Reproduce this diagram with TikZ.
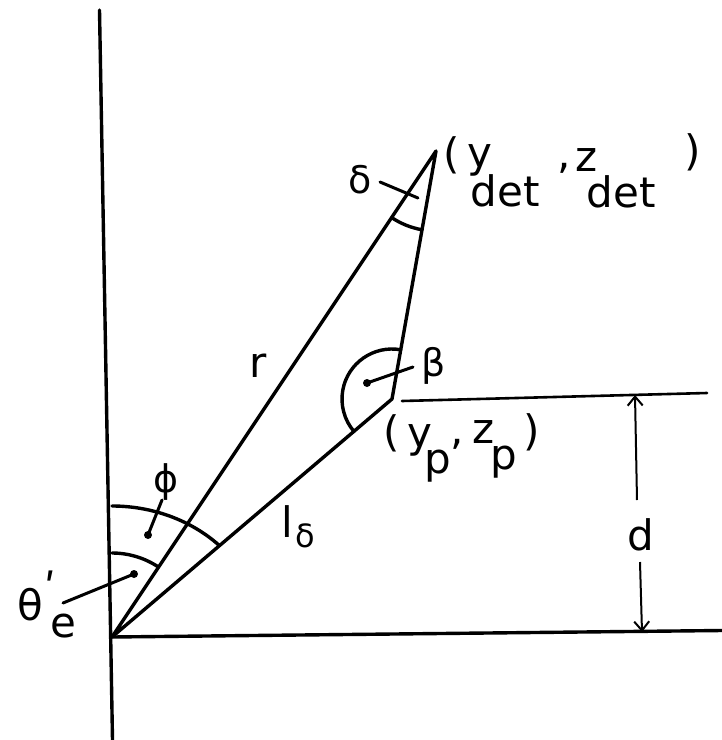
\documentclass[tikz,border=0pt]{standalone}
\usepackage{fontspec}
\setmainfont{DejaVu Sans}
\usetikzlibrary{arrows.meta}
\begin{document}
\begin{tikzpicture}[x=1pt,y=-1pt,
  heavy/.style={line width=3.4pt,line cap=round,line join=round},
  medium/.style={line width=2.6pt,line cap=round},
  leader/.style={line width=3pt,line cap=round},
  dimline/.style={line width=2pt},
  barb/.style={-{Straight Barb[length=9pt,width=15pt,line width=2pt]}},
  lbl/.style={inner sep=0pt,font=\fontsize{42}{42}\selectfont},
  lblm/.style={inner sep=0pt,font=\fontsize{38}{38}\selectfont},
  lbls/.style={inner sep=0pt,font=\fontsize{32}{32}\selectfont},
  dotmark/.style={circle,fill,inner sep=0pt,minimum size=8pt}
]
\fill[white] (0,0) rectangle (722,740);
\useasboundingbox (0,0) rectangle (722,740);
% key points
\coordinate (Vtop) at (99.5,10);
\coordinate (Vbot) at (112.5,740);
\coordinate (O) at (112,637);
\coordinate (P) at (392,399);
\coordinate (D) at (436,151);
\coordinate (Hend) at (722,630.5);
\coordinate (Ustart) at (402,401);
\coordinate (Uend) at (707,393);
% axes and baselines
\draw[heavy] (Vtop) -- (Vbot);
\draw[heavy] (O) -- (Hend);
\draw[medium] (Ustart) -- (Uend);
% triangle
\draw[heavy] (O) -- (D) -- (P) -- cycle;
% angle arcs
\draw[heavy] ([shift={(-90:84)}]O) arc[start angle=-90,end angle=-56.4,radius=84];
\draw[heavy] ([shift={(-90:131)}]O) arc[start angle=-90,end angle=-44.3,x radius=150,y radius=131];
\draw[heavy] ([shift={(-79.9:50)}]P) arc[start angle=-79.9,end angle=-220.5,radius=50];
\draw[heavy] ([shift={(100.1:80)}]D) arc[start angle=100.1,end angle=123.6,radius=80];
% dimension d
\coordinate (dA) at (635,395);
\coordinate (dB) at (637,500);
\coordinate (dC) at (640,562);
\coordinate (dE) at (642,632);
\draw[dimline,barb] (dB) -- (dA);
\draw[dimline,barb] (dC) -- (dE);
\node[lbl] (dlab) at (641,535) {d};
% leaders and dots
\node[dotmark] (bdot) at (367,383) {};
\coordinate (bend) at (413,367);
\draw[leader] (bdot.center) -- (bend);
\node[dotmark] (pdot) at (148,535) {};
\coordinate (pend) at (162,500);
\draw[leader] (pdot.center) -- (pend);
\node[dotmark] (tdot) at (134,574) {};
\coordinate (tend) at (63,603);
\draw[leader] (tdot.center) -- (tend);
\coordinate (sdot) at (418,198);
\coordinate (send) at (380,182);
\draw[leader] (sdot) -- (send);
% labels
\node[lblm] (slab) at (360,180) {δ};
\node[lbl] (dp1) at (452,155) {(};
\node[lbl] (dy) at (480,160) {y};
\node[lbl] (dd1) at (505,191) {det};
\node[lbl] (dcm) at (564,168) {,};
\node[lbl] (dz) at (587,160) {z};
\node[lbl] (dd2) at (621,192) {det};
\node[lbl] (dp2) at (693,152) {)};
\node[lblm] (blab) at (434,366) {β};
\node[lbl] (pp1) at (392,433) {(};
\node[lbl] (py) at (420,440) {y};
\node[lbl] (pp) at (438,466) {p};
\node[lbl] (pcm) at (457,444) {,};
\node[lbl] (pz) at (484,432) {z};
\node[lbl] (pp2b) at (504,462) {p};
\node[lbl] (pp2) at (532,432) {)};
\node[lbl] (rlab) at (258,366) {r};
\node[lbl] (llab) at (287,522) {l};
\node[lbls] (lsub) at (305,536) {δ};
\node[lblm] (phlab) at (166,482) {ϕ};
\node[lbl] (thlab) at (30,605) {θ};
\node[lbl] (thpr) at (50,588) {ʹ};
\node[lbl] (thsub) at (63,626) {e};
\end{tikzpicture}
\end{document}
